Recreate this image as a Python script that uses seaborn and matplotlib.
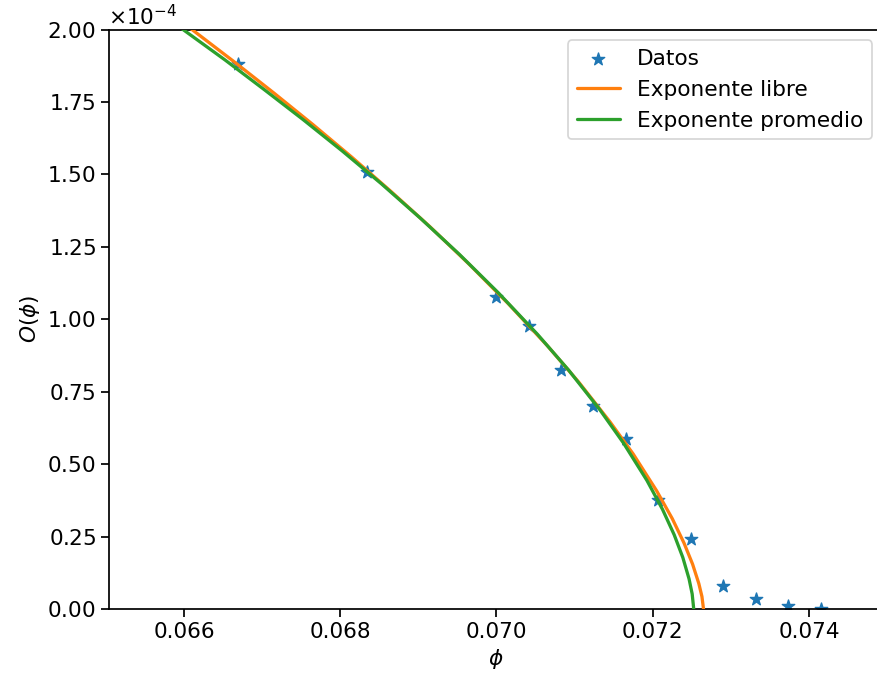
import matplotlib
matplotlib.use("Agg")
import matplotlib.pyplot as plt
import seaborn as sns
import pandas as pd

# Measured order parameter O(phi), in units of 1e-4
phi_data = [0.06669, 0.06834, 0.07000, 0.07042, 0.07083, 0.07124, 0.07166,
            0.07207, 0.07249, 0.07290, 0.07332, 0.07373, 0.07415]
O_data = [1.880, 1.508, 1.077, 0.978, 0.824, 0.702, 0.586,
          0.376, 0.243, 0.081, 0.034, 0.009, 0.001]

# Fit with free exponent (tabulated)
phi_libre = [0.06600, 0.06665, 0.06715, 0.06765, 0.06815, 0.06865, 0.06915,
             0.06965, 0.07015, 0.07065, 0.07105, 0.07145, 0.07175, 0.07205,
             0.07225, 0.07240, 0.07251, 0.07259, 0.07263, 0.07265]
O_libre = [2.021, 1.887, 1.781, 1.672, 1.559, 1.441, 1.319,
           1.190, 1.054, 0.909, 0.784, 0.647, 0.535, 0.408,
           0.312, 0.228, 0.155, 0.088, 0.043, 0.000]

# Fit with averaged exponent (tabulated)
phi_prom = [0.065900, 0.066525, 0.067025, 0.067525, 0.068025, 0.068525, 0.069025,
            0.069525, 0.070025, 0.070525, 0.070925, 0.071325, 0.071625, 0.071925,
            0.072125, 0.072275, 0.072385, 0.072465, 0.072505, 0.072525]
O_prom = [2.017, 1.895, 1.793, 1.689, 1.581, 1.468, 1.349,
          1.224, 1.091, 0.948, 0.824, 0.687, 0.573, 0.444,
          0.344, 0.256, 0.178, 0.104, 0.052, 0.000]

scale = 1e-4
df_data = pd.DataFrame({"phi": phi_data, "O": [v * scale for v in O_data]})
df_libre = pd.DataFrame({"phi": phi_libre, "O": [v * scale for v in O_libre]})
df_prom = pd.DataFrame({"phi": phi_prom, "O": [v * scale for v in O_prom]})

FS = 15.6

sns.set_style("ticks")
plt.rcParams["font.family"] = ["DejaVu Sans"]
plt.rcParams["mathtext.fontset"] = "dejavusans"
plt.rcParams["font.size"] = FS
for key in ("text.color", "axes.labelcolor", "xtick.color", "ytick.color",
            "axes.edgecolor"):
    plt.rcParams[key] = "black"
plt.rcParams["xtick.direction"] = "out"
plt.rcParams["ytick.direction"] = "out"

fig = plt.figure(figsize=(8.77, 6.79), dpi=100)
W, H = 877, 679
ax = fig.add_axes([108.5 / W, 1 - 609 / H, (883 - 108.5) / W, (609 - 29.5) / H])

blue, orange, green = "#1f77b4", "#ff7f0e", "#2ca02c"

sns.scatterplot(data=df_data, x="phi", y="O", marker="*", s=88, color=blue,
                edgecolor=blue, linewidth=1.0, label="Datos", ax=ax, zorder=2)
sns.lineplot(data=df_libre, x="phi", y="O", sort=False, estimator=None,
             color=orange, linewidth=2.34, label="Exponente libre", ax=ax, zorder=3)
sns.lineplot(data=df_prom, x="phi", y="O", sort=False, estimator=None,
             color=green, linewidth=2.34, label="Exponente promedio", ax=ax, zorder=4)

ax.set_xlim(0.065034, 0.065034 + (883 - 108.5) / 78125)
ax.set_ylim(0, 2.0e-4)
ax.set_xticks([0.066, 0.068, 0.070, 0.072, 0.074])
ax.set_yticks([i * 0.25e-4 for i in range(9)])
ax.ticklabel_format(axis="y", style="sci", scilimits=(0, 0), useMathText=True)
ax.yaxis.get_offset_text().set_fontsize(FS)

ax.set_xlabel(r"$\phi$", fontsize=FS)
ax.set_ylabel(r"$O(\phi)$", fontsize=FS)

for sp in ax.spines.values():
    sp.set_linewidth(1.25)
    sp.set_color("black")
ax.tick_params(axis="both", labelsize=FS, length=5.5, width=1.25, color="black")

leg = ax.legend(loc="upper right", fontsize=FS, frameon=True, fancybox=True,
                framealpha=0.8, edgecolor="#cccccc", borderaxespad=0.5)
leg.get_frame().set_linewidth(1.25)

fig.savefig("out.png", dpi=100)
